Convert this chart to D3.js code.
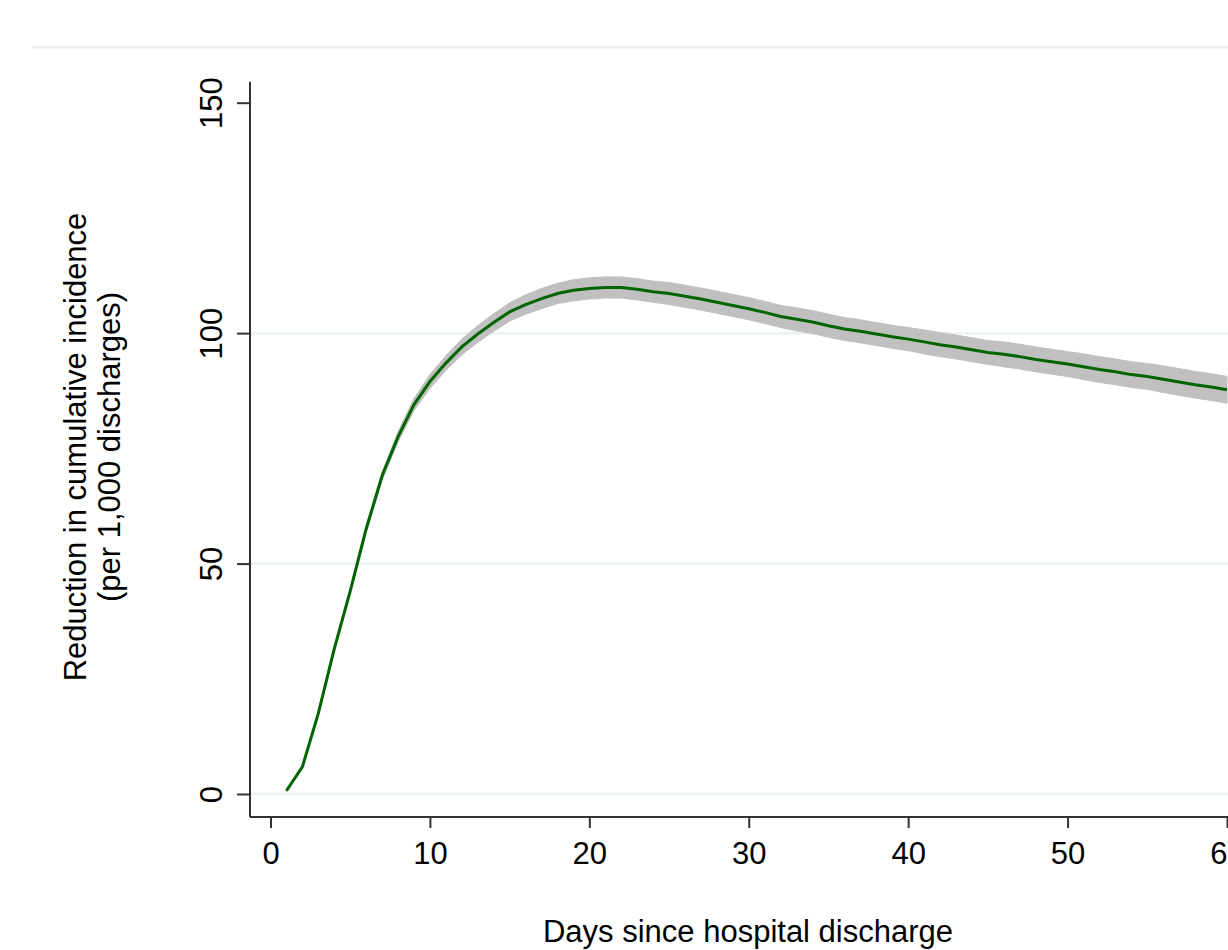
<!DOCTYPE html>
<html>
<head>
<meta charset="utf-8">
<script src="https://cdn.jsdelivr.net/npm/d3@7"></script>
<style>
  body { margin: 0; background: #fff; }
  svg { display: block; }
</style>
</head>
<body>
<svg id="chart"></svg>
<script>
// days since discharge
const days = [
   1,  2,  3,  4,  5,  6,  7,  8,  9, 10,
  11, 12, 13, 14, 15, 16, 17, 18, 19, 20,
  21, 22, 23, 24, 25, 26, 27, 28, 29, 30,
  31, 32, 33, 34, 35, 36, 37, 38, 39, 40,
  41, 42, 43, 44, 45, 46, 47, 48, 49, 50,
  51, 52, 53, 54, 55, 56, 57, 58, 59, 60
];

// reduction in cumulative incidence, per 1,000 discharges
const reduction = [
    0.7,   5.9,  17.5,  31.5,  44.0,  57.5,  69.0,  77.5,  84.5,  89.5,
   93.5,  97.0,  99.8, 102.3, 104.6, 106.2, 107.5, 108.6, 109.3, 109.7,
  109.9, 109.9, 109.5, 109.0, 108.6, 108.0, 107.4, 106.7, 106.0, 105.3,
  104.5, 103.6, 103.0, 102.4, 101.6, 100.9, 100.4,  99.8,  99.2,  98.7,
   98.1,  97.5,  97.0,  96.4,  95.8,  95.4,  94.9,  94.3,  93.8,  93.3,
   92.7,  92.1,  91.6,  91.0,  90.6,  90.0,  89.4,  88.8,  88.3,  87.7
];

// confidence band
const ciLow = [
    0.5,   5.6,  17.1,  31.0,  43.4,  56.7,  68.1,  76.4,  83.2,  88.0,
   91.9,  95.3,  98.0, 100.4, 102.6, 104.1, 105.3, 106.4, 107.0, 107.4,
  107.6, 107.6, 107.2, 106.7, 106.2, 105.6, 105.0, 104.3, 103.6, 102.9,
  102.1, 101.2, 100.5,  99.9,  99.1,  98.4,  97.9,  97.3,  96.7,  96.2,
   95.5,  94.9,  94.4,  93.8,  93.2,  92.7,  92.2,  91.6,  91.1,  90.6,
   89.9,  89.3,  88.8,  88.2,  87.8,  87.1,  86.5,  85.9,  85.4,  84.8
];
const ciHigh = [
    0.9,   6.2,  17.9,  32.0,  44.6,  58.3,  69.9,  78.6,  85.8,  91.0,
   95.1,  98.7, 101.6, 104.2, 106.6, 108.3, 109.7, 110.8, 111.6, 112.0,
  112.2, 112.2, 111.8, 111.3, 111.0, 110.4, 109.8, 109.1, 108.4, 107.7,
  106.9, 106.0, 105.5, 104.9, 104.1, 103.4, 102.9, 102.3, 101.7, 101.2,
  100.7, 100.1,  99.6,  99.0,  98.4,  98.1,  97.6,  97.0,  96.5,  96.0,
   95.5,  94.9,  94.4,  93.8,  93.4,  92.9,  92.3,  91.7,  91.2,  90.6
];

const xTicks = [0, 10, 20, 30, 40, 50, 60];
const yTicks = [0, 50, 100, 150];
const yGrid = [0, 50, 100];

const width = 1228, height = 950;
const font = "'Liberation Sans', Arial, Helvetica, sans-serif";
const fontSize = "31px";
const axisColor = "#333";

const rows = days.map((d, i) => ({
  day: d, v: reduction[i], lo: ciLow[i], hi: ciHigh[i]
}));

const svg = d3.select("#chart")
    .attr("width", width)
    .attr("height", height)
    .style("font-family", font);

const x = d3.scaleLinear().domain([0, 60]).range([270.5, 1227]);
const y = d3.scaleLinear().domain([0, 150]).range([794, 102.7]);

const plotLeft = 250, plotBottom = 817, plotTop = 81.7;

// thin frame line along the top
svg.append("line")
    .attr("x1", 32).attr("x2", width)
    .attr("y1", 47.5).attr("y2", 47.5)
    .style("stroke", "#e8eeee")
    .style("stroke-width", 2);

// grid lines
svg.append("g")
  .selectAll("line")
  .data(yGrid)
  .enter().append("line")
    .attr("x1", plotLeft + 1).attr("x2", width)
    .attr("y1", d => y(d)).attr("y2", d => y(d))
    .style("stroke", "#eaf2f3")
    .style("stroke-width", 2.5);

// confidence band
svg.append("path")
    .datum(rows)
    .attr("d", d3.area()
        .x(d => x(d.day))
        .y0(d => y(d.lo))
        .y1(d => y(d.hi)))
    .style("fill", "#c0c0c0")
    .style("stroke", "#c0c0c0")
    .style("stroke-width", 1);

// estimate line
svg.append("path")
    .datum(rows)
    .attr("d", d3.line()
        .x(d => x(d.day))
        .y(d => y(d.v)))
    .style("fill", "none")
    .style("stroke", "#006400")
    .style("stroke-width", 3);

// x axis
const xAxis = svg.append("g")
    .attr("transform", "translate(0," + plotBottom + ")")
    .call(d3.axisBottom(x).tickValues(xTicks).tickSize(11).tickPadding(14).tickSizeOuter(0));
xAxis.select(".domain").remove();
xAxis.selectAll(".tick line").style("stroke", axisColor).style("stroke-width", 2);
xAxis.selectAll(".tick text")
    .style("font-family", font)
    .style("font-size", fontSize)
    .style("fill", "#000");
xAxis.append("line")
    .attr("x1", plotLeft).attr("x2", width)
    .attr("y1", 0).attr("y2", 0)
    .style("stroke", axisColor).style("stroke-width", 2);

// y axis
const yAxis = svg.append("g")
    .attr("transform", "translate(" + plotLeft + ",0)")
    .call(d3.axisLeft(y).tickValues(yTicks).tickSize(13).tickSizeOuter(0));
yAxis.select(".domain").remove();
yAxis.selectAll(".tick line").style("stroke", axisColor).style("stroke-width", 2);
yAxis.selectAll(".tick text")
    .attr("x", null).attr("dy", null)
    .attr("transform", "translate(-28,0) rotate(-90)")
    .attr("text-anchor", "middle")
    .style("font-family", font)
    .style("font-size", fontSize)
    .style("fill", "#000");
yAxis.append("line")
    .attr("x1", 0).attr("x2", 0)
    .attr("y1", plotTop).attr("y2", plotBottom)
    .style("stroke", axisColor).style("stroke-width", 2);

// axis titles
svg.append("text")
    .attr("x", 748).attr("y", 942)
    .attr("text-anchor", "middle")
    .style("font-size", fontSize)
    .text("Days since hospital discharge");

const yTitle = svg.append("text")
    .attr("transform", "translate(0,447) rotate(-90)")
    .attr("text-anchor", "middle")
    .style("font-size", fontSize);
yTitle.append("tspan").attr("x", 0).attr("y", 86).text("Reduction in cumulative incidence");
yTitle.append("tspan").attr("x", 0).attr("y", 120).text("(per 1,000 discharges)");
</script>
</body>
</html>
